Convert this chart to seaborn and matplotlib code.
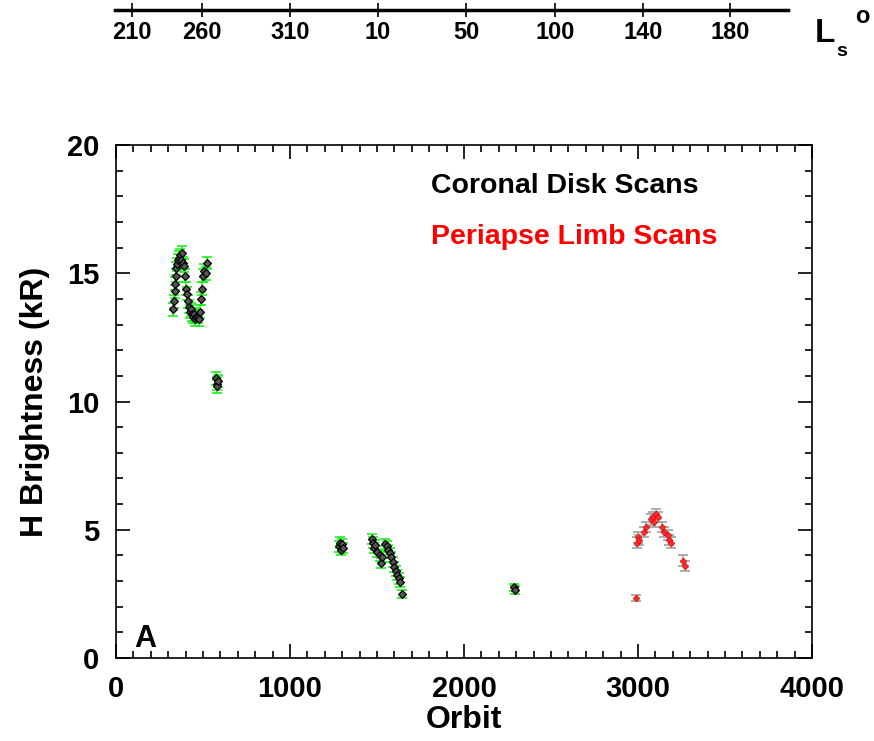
import numpy as np
import pandas as pd
import seaborn as sns
import matplotlib.pyplot as plt
from matplotlib.ticker import MultipleLocator

# coronal disk scans (black points, green error bars)
coronal_orbit = [330, 333, 337, 340, 343, 347, 350, 355, 362, 368, 374, 380, 385, 390,
                 396, 402, 408, 414, 420, 425, 432, 437, 443, 450, 456, 462, 470, 477,
                 483, 489, 494, 500, 507, 515, 523,
                 575, 578, 582, 585,
                 1282, 1287, 1293, 1299, 1305,
                 1471, 1477, 1483, 1489, 1500, 1517, 1522, 1529,
                 1546, 1557, 1563, 1575, 1580, 1592, 1598, 1609, 1615, 1626, 1632, 1644,
                 2285, 2292]
coronal_hbright = [13.6, 13.9, 14.3, 14.6, 14.9, 15.2, 15.35, 15.5, 15.6, 15.7, 15.5, 15.8, 15.4, 15.3,
                   14.9, 14.4, 14.2, 13.9, 13.7, 13.5, 13.6, 13.4, 13.3, 13.4, 13.2, 13.3, 13.3, 13.2,
                   13.5, 14.0, 14.4, 14.9, 15.1, 15.0, 15.4,
                   10.9, 10.7, 10.6, 10.8,
                   4.35, 4.5, 4.2, 4.45, 4.3,
                   4.65, 4.5, 4.3, 4.4, 4.15, 4.0, 3.7, 3.95,
                   4.45, 4.35, 4.2, 4.1, 3.95, 3.75, 3.55, 3.4, 3.25, 3.1, 2.95, 2.5,
                   2.75, 2.65]
coronal_err = [0.25, 0.25, 0.25, 0.25, 0.25, 0.25, 0.25, 0.25, 0.25, 0.25, 0.25, 0.25, 0.25, 0.25,
               0.25, 0.25, 0.25, 0.25, 0.25, 0.25, 0.25, 0.25, 0.25, 0.25, 0.25, 0.25, 0.25, 0.25,
               0.25, 0.25, 0.25, 0.25, 0.25, 0.25, 0.25,
               0.25, 0.25, 0.25, 0.25,
               0.2, 0.2, 0.2, 0.2, 0.2,
               0.2, 0.2, 0.2, 0.2, 0.2, 0.2, 0.2, 0.2,
               0.2, 0.2, 0.2, 0.2, 0.2, 0.2, 0.2, 0.2, 0.2, 0.2, 0.2, 0.15,
               0.15, 0.15]

# periapse limb scans (red points, gray error bars)
limb_orbit = [2990, 2995, 3000, 3005, 3035, 3045, 3075, 3085, 3090, 3105, 3115,
              3140, 3150, 3170, 3180, 3190, 3260, 3268]
limb_hbright = [2.35, 4.5, 4.7, 4.6, 4.9, 5.1, 5.4, 5.5, 5.3, 5.6, 5.5,
                5.1, 4.9, 4.8, 4.6, 4.5, 3.8, 3.6]
limb_err = [0.12, 0.2, 0.2, 0.2, 0.2, 0.2, 0.2, 0.2, 0.2, 0.2, 0.2,
            0.2, 0.2, 0.2, 0.2, 0.2, 0.2, 0.2]

# solar longitude labels on top axis
ls_orbit = [92, 494, 1000, 1506, 2011, 2523, 3029, 3529]
ls_labels = ["210", "260", "310", "10", "50", "100", "140", "180"]

coronal = pd.DataFrame({"Orbit": coronal_orbit, "H": coronal_hbright, "err": coronal_err})
limb = pd.DataFrame({"Orbit": limb_orbit, "H": limb_hbright, "err": limb_err})

sns.set_style("ticks")
plt.rcParams["font.family"] = ["Liberation Sans", "DejaVu Sans"]
plt.rcParams["font.weight"] = "bold"
plt.rcParams["text.color"] = "black"
plt.rcParams["axes.labelcolor"] = "black"
plt.rcParams["xtick.color"] = "black"
plt.rcParams["ytick.color"] = "black"
plt.rcParams["axes.edgecolor"] = "black"

fig = plt.figure(figsize=(8.74, 7.41), dpi=100)
ax = fig.add_axes([0.1327, 0.112, 0.7963, 0.6923])

ax.errorbar(coronal["Orbit"], coronal["H"], yerr=coronal["err"], fmt="none",
            ecolor="#22ee22", elinewidth=1.2, capsize=3.5, capthick=1.2, zorder=2)
ax.errorbar(limb["Orbit"], limb["H"], yerr=limb["err"], fmt="none",
            ecolor="#a0a0a0", elinewidth=1.2, capsize=3.5, capthick=1.2, zorder=2)
sns.scatterplot(data=coronal, x="Orbit", y="H", ax=ax, marker="D", s=16,
                color="#555555", edgecolor="black", linewidth=0.9, zorder=3)
sns.scatterplot(data=limb, x="Orbit", y="H", ax=ax, marker="D", s=12,
                color="#ff2a2a", edgecolor="#d00000", linewidth=0.4, zorder=3)

ax.set_xlim(0, 4000)
ax.set_ylim(0, 20)
ax.xaxis.set_major_locator(MultipleLocator(1000))
ax.xaxis.set_minor_locator(MultipleLocator(100))
ax.yaxis.set_major_locator(MultipleLocator(5))
ax.yaxis.set_minor_locator(MultipleLocator(1))
ax.tick_params(which="both", direction="in", top=True, right=True, width=1.2)
ax.tick_params(which="major", length=10, labelsize=21, pad=12)
ax.tick_params(which="minor", length=5)
for sp in ax.spines.values():
    sp.set_linewidth(1.2)
ax.set_xlabel("Orbit", fontsize=23, fontweight="bold", labelpad=2)
ax.set_ylabel("H Brightness (kR)", fontsize=23, fontweight="bold", labelpad=12)

ax.text(0.452, 0.92, "Coronal Disk Scans", transform=ax.transAxes, fontsize=20.5,
        fontweight="bold", color="black", va="center")
ax.text(0.452, 0.821, "Periapse Limb Scans", transform=ax.transAxes, fontsize=20.5,
        fontweight="bold", color="red", va="center")
ax.text(0.026, 0.008, "A", transform=ax.transAxes, fontsize=22, fontweight="bold",
        color="black", va="bottom")

# top Ls axis
ax_top = fig.add_axes([0.1327, 0.9865, 0.7963, 0.0001])
ax_top.set_xlim(0, 4000)
ax_top.set_yticks([])
for name in ["top", "left", "right"]:
    ax_top.spines[name].set_visible(False)
ax_top.spines["bottom"].set_linewidth(2.5)
ax_top.spines["bottom"].set_bounds(-6, 3862)
ax_top.set_xticks(ls_orbit)
ax_top.set_xticklabels(ls_labels)
ax_top.tick_params(axis="x", direction="inout", length=10, width=1.2, labelsize=17, pad=3)
ax_top.patch.set_visible(False)

fig.text(0.932, 0.955, "L", fontsize=24, fontweight="bold", ha="left", va="center")
fig.text(0.957, 0.930, "s", fontsize=14, fontweight="bold", ha="left", va="center")
fig.text(0.978, 0.978, "o", fontsize=17, fontweight="bold", ha="left", va="center")

fig.savefig("out.png", dpi=100)
